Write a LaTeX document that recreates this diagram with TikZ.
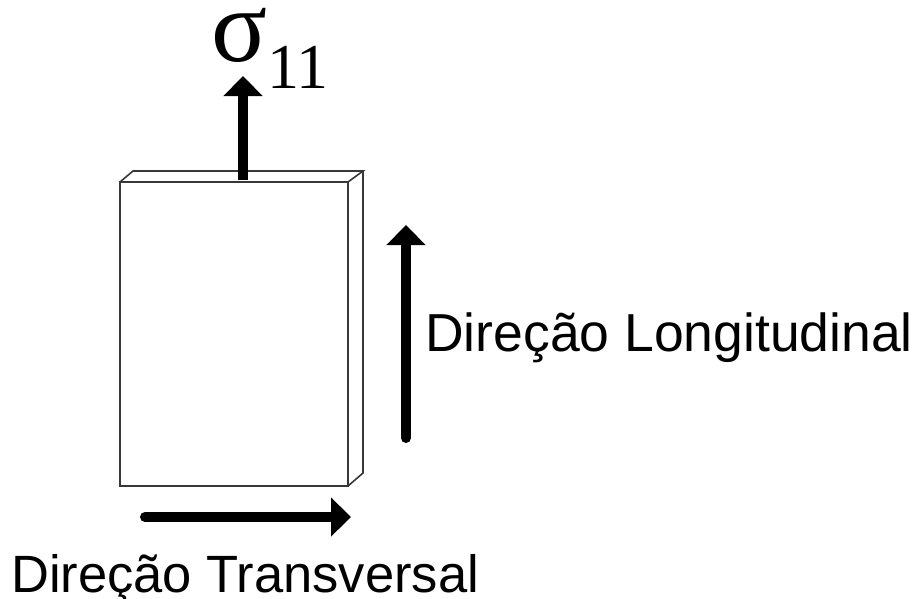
\documentclass[tikz,border=0pt]{standalone}
\usepackage{fontspec}
\setmainfont{Liberation Sans}
\newfontfamily\greekserif{Liberation Serif}
\usetikzlibrary{arrows.meta}

\tikzset{
  slab/.style={draw=black!78, line width=1.6pt, line join=miter},
  fatarrow/.style={line width=10pt, -{Triangle[width=38pt,length=20pt]}},
  dirlabel/.style={anchor=base west, inner sep=0pt, font=\fontsize{53.5pt}{60pt}\selectfont}
}

\begin{document}
\begin{tikzpicture}[x=1pt, y=-1pt]
            \useasboundingbox (0,0) rectangle (915,598);

            % Front face and slab thickness
            \draw[slab] (120,182) rectangle (348,486);
            \draw[slab] (120,182) -- (133,171) -- (363,171) -- (348,182);
            \draw[slab] (363,171) -- (363,473) -- (348,486);

            % Arrow end points
            \coordinate (loadfoot) at (243,180);
            \coordinate (loadtip) at (243,76);
            \coordinate (longfoot) at (406,438);
            \coordinate (longtip) at (406,225);
            \coordinate (transfoot) at (145,517);
            \coordinate (transtip) at (351,517);

            % Arrows
            \draw[fatarrow] (loadfoot) -- (loadtip);
            \draw[fatarrow, line cap=round] (longfoot) -- (longtip);
            \draw[fatarrow, line cap=round] (transfoot) -- (transtip);

            % Labels
            \node[anchor=base west, inner sep=0pt] (sigma) at (211,61)
              {\greekserif\fontsize{104pt}{104pt}\selectfont σ\raisebox{-27pt}{\fontsize{64pt}{64pt}\selectfont 11}};
            \node[dirlabel] (longlabel) at (425,351) {Direção Longitudinal};
            \node[dirlabel, font=\fontsize{52.5pt}{60pt}\selectfont] (translabel) at (11,592) {Direção Transversal};
\end{tikzpicture}
\end{document}
